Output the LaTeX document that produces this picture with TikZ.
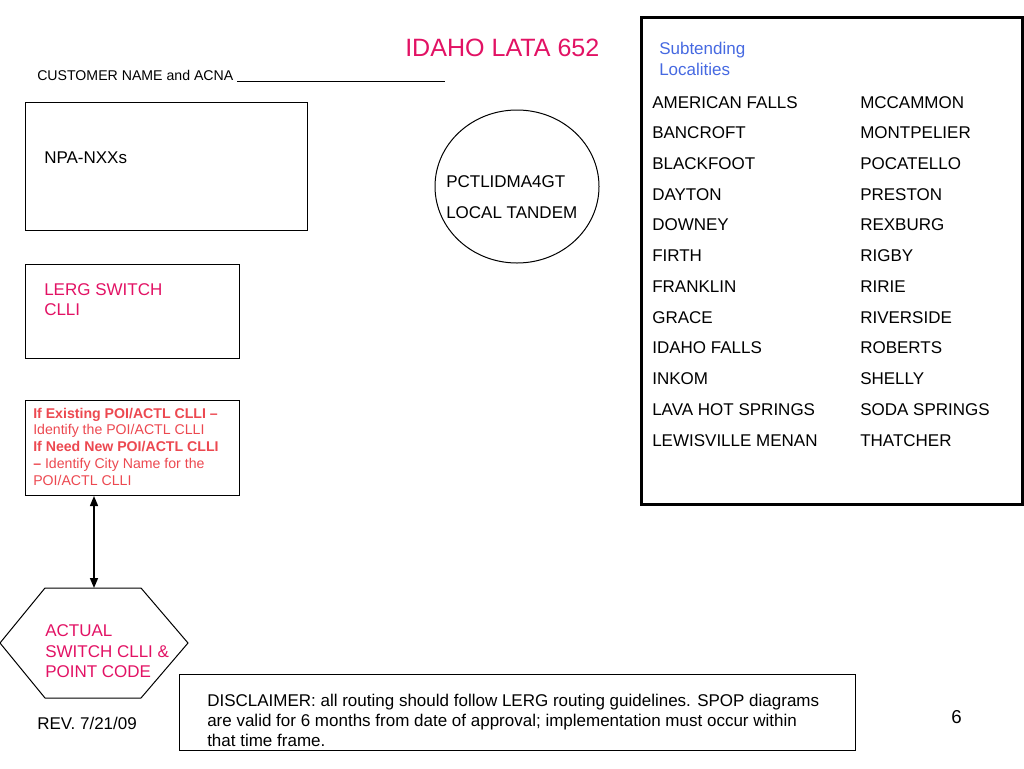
\documentclass[tikz,border=0pt]{standalone}
\usepackage{fontspec}
\setmainfont{Liberation Sans}
\usetikzlibrary{shapes.geometric,arrows.meta}
\definecolor{titlepink}{RGB}{226,18,100}
\definecolor{poired}{RGB}{236,72,80}
\definecolor{subblue}{RGB}{70,105,225}
\newcommand{\fs}{\fontsize{12.75}{15}\selectfont}
\newcommand{\fsm}{\fontsize{10.6}{12.5}\selectfont}
\begin{document}
\begin{tikzpicture}[x=0.75pt,y=-0.75pt,
  txt/.style={anchor=base west, inner sep=0pt, font=\fs},
  smalltxt/.style={anchor=base west, inner sep=0pt, font=\fsm},
  thinbox/.style={draw, line width=0.75pt, anchor=north west, inner sep=0pt},
  arr/.style={{Triangle[length=7.5pt,width=6pt]}-{Triangle[length=7.5pt,width=6pt]}, line width=1.1pt}]
\useasboundingbox (0,0) rectangle (1024,768);
% title
\node[txt, font=\fontsize{18.8}{22}\selectfont, text=titlepink] (title) at (405,56) {IDAHO LATA 652};
\node[smalltxt] (cust) at (37,80) {CUSTOMER NAME and ACNA \rule[-1pt]{156pt}{0.6pt}};
% NPA box
\node[thinbox, minimum width=211.5pt, minimum height=96pt] (npa) at (25,102) {};
\node[txt] (npatxt) at (44,163) {NPA-NXXs};
% tandem ellipse
\node[ellipse, draw, line width=0.75pt, minimum width=123pt, minimum height=114.75pt, inner sep=0pt] (tandem) at (517,186.5) {};
\node[txt] (t1) at (446,187.5) {PCTLIDMA4GT};
\node[txt] (t2) at (446,218) {LOCAL TANDEM};
% LERG box
\node[thinbox, minimum width=160.5pt, minimum height=70.5pt] (lerg) at (25,264) {};
\node[txt, text=titlepink] (l1) at (44,295) {LERG SWITCH};
\node[txt, text=titlepink] (l2) at (44,315) {CLLI};
% POI box
\node[thinbox, minimum width=160.5pt, minimum height=71.25pt] (poi) at (25,400) {};
\node[smalltxt, text=poired, font=\fsm\bfseries] (p1) at (33,418) {If Existing POI/ACTL CLLI –};
\node[smalltxt, text=poired] (p2) at (33,434.75) {Identify the POI/ACTL CLLI};
\node[smalltxt, text=poired, font=\fsm\bfseries] (p3) at (33,451.5) {If Need New POI/ACTL CLLI};
\node[smalltxt, text=poired] (p4) at (33,468.25) {\textbf{–} Identify City Name for the};
\node[smalltxt, text=poired] (p5) at (33,485) {POI/ACTL CLLI};
% hexagon
\coordinate (hexTop) at (94,588);
\draw[line width=0.75pt] (0,643) -- (45,588) -- (141,588) -- (188,643) -- (141,698) -- (45,698) -- cycle;
\node[txt, text=titlepink] (h1) at (45,636) {ACTUAL};
\node[txt, text=titlepink] (h2) at (45,657) {SWITCH CLLI \&};
\node[txt, text=titlepink] (h3) at (45,677) {POINT CODE};
\draw[arr] (poi.south -| hexTop) -- (hexTop);
% disclaimer
\node[thinbox, fill=white, minimum width=507pt, minimum height=57pt] (disc) at (179,674) {};
\node[txt] (d1) at (207,706) {DISCLAIMER: all routing should follow LERG routing guidelines. SPOP diagrams};
\node[txt] (d2) at (207,726) {are valid for 6 months from date of approval; implementation must occur within};
\node[txt] (d3) at (207,746) {that time frame.};
\node[txt] (rev) at (37,729) {REV. 7/21/09};
\node[txt, font=\fontsize{14}{16}\selectfont] (page) at (951,723) {6};
% localities box
\node[draw, line width=2.25pt, anchor=north west, inner sep=0pt, minimum width=285.75pt, minimum height=365.25pt] (loc) at (640,16) {};
\node[txt, text=subblue] (s1) at (659,54) {Subtending};
\node[txt, text=subblue] (s2) at (659,75) {Localities};
\foreach \a/\b [count=\i from 0] in {AMERICAN FALLS/MCCAMMON, BANCROFT/MONTPELIER, BLACKFOOT/POCATELLO, DAYTON/PRESTON, DOWNEY/REXBURG, FIRTH/RIGBY, FRANKLIN/RIRIE, GRACE/RIVERSIDE, IDAHO FALLS/ROBERTS, INKOM/SHELLY, LAVA HOT SPRINGS/SODA SPRINGS, LEWISVILLE MENAN/THATCHER}{
  \node[txt] (la\i) at (652,108+30.73*\i) {\a};
  \node[txt] (lb\i) at (860,108+30.73*\i) {\b};
}
\end{tikzpicture}
\end{document}
